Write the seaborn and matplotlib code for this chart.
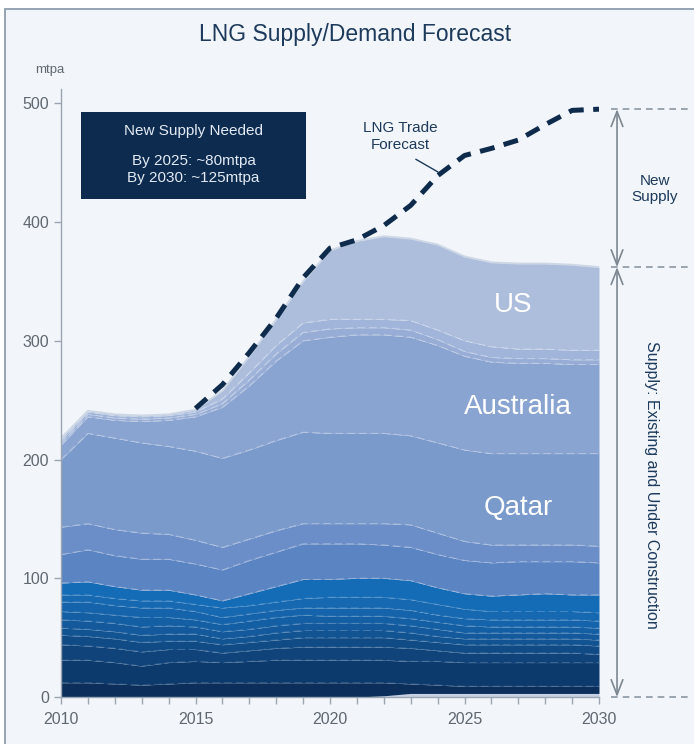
import numpy as np
import pandas as pd
import matplotlib.pyplot as plt
import matplotlib.patches as ptch
import seaborn as sns

years = list(range(2010, 2031))

# top edge of every supply layer, bottom to top (mtpa)
edge_base = [0, 0, 0, 0, 0, 0, 0, 0, 0, 0, 0, 0, 1, 3, 3, 3, 3, 3, 3, 3, 3]
edge_d1 = [12, 12, 11, 10, 11, 12, 12, 12, 12, 12, 12, 12, 12, 11, 10, 9, 9, 9, 9, 9, 9]
edge_d2 = [31, 31, 29, 26, 29, 30, 29, 30, 31, 31, 31, 31, 31, 30, 30, 29, 29, 29, 29, 29, 29]
edge_d3 = [44, 43, 41, 38, 40, 40, 37, 39, 41, 42, 42, 42, 42, 41, 39, 37, 37, 37, 37, 37, 36]
edge_d4 = [52, 51, 49, 46, 47, 47, 44, 46, 48, 50, 50, 50, 50, 48, 46, 44, 44, 44, 44, 44, 43]
edge_d5 = [58, 57, 55, 52, 53, 53, 49, 51, 54, 56, 56, 56, 56, 54, 51, 49, 49, 49, 49, 49, 48]
edge_d6 = [65, 64, 62, 59, 60, 59, 55, 57, 60, 62, 62, 62, 62, 60, 57, 54, 54, 54, 54, 54, 53]
edge_d7 = [72, 71, 69, 67, 67, 65, 61, 64, 67, 69, 68, 68, 68, 66, 63, 60, 59, 59, 59, 59, 58]
edge_d8 = [80, 80, 77, 75, 75, 72, 67, 70, 73, 75, 75, 75, 75, 73, 69, 66, 65, 65, 65, 65, 64]
edge_d9 = [86, 86, 83, 81, 81, 78, 75, 77, 80, 83, 84, 84, 84, 82, 78, 74, 72, 72, 72, 72, 71]
edge_bright = [96, 97, 93, 90, 90, 86, 81, 87, 93, 99, 99, 100, 100, 98, 92, 87, 85, 86, 87, 86, 86]
edge_mid1 = [120, 124, 119, 116, 116, 112, 107, 115, 122, 129, 129, 129, 128, 126, 120, 115, 113, 114, 114, 114, 113]
edge_mid2 = [143, 146, 141, 138, 137, 132, 126, 133, 140, 146, 146, 146, 146, 145, 138, 131, 128, 128, 128, 128, 127]
edge_qatar = [200, 222, 218, 214, 211, 207, 201, 208, 216, 223, 222, 222, 222, 220, 214, 208, 205, 205, 205, 205, 205]
edge_australia = [212, 236, 233, 232, 233, 236, 244, 262, 283, 300, 303, 305, 305, 303, 296, 287, 282, 281, 281, 280, 280]
edge_other1 = [214, 238, 235, 234, 235, 238, 247, 267, 289, 307, 310, 311, 311, 309, 301, 291, 286, 285, 285, 284, 284]
edge_other2 = [216, 240, 237, 236, 237, 240, 251, 273, 296, 315, 318, 318, 318, 317, 309, 300, 295, 293, 293, 292, 292]
edge_us = [218, 241, 238, 237, 238, 242, 258, 287, 318, 350, 376, 384, 388, 386, 381, 371, 366, 365, 365, 364, 362]

edges = [edge_base, edge_d1, edge_d2, edge_d3, edge_d4, edge_d5, edge_d6, edge_d7,
         edge_d8, edge_d9, edge_bright, edge_mid1, edge_mid2, edge_qatar,
         edge_australia, edge_other1, edge_other2, edge_us]
colors = ['#c5d0e4', '#0b2f5a', '#0d3a6c', '#0f4379', '#114b86', '#125391', '#13599b',
          '#145fa4', '#1564ab', '#1668b1', '#146bb6', '#5b84c2', '#6b8ec8', '#7b9acc',
          '#8aa4d1', '#97add6', '#a1b5da', '#adbedd']

trade_years = list(range(2015, 2031))
trade = [243, 263, 290, 319, 353, 378, 385, 397, 414, 439, 456, 462, 469, 482, 494, 495]

labels = ['US', 'Australia', 'Qatar']
label_x = [2026.8, 2027.0, 2027.0]
label_y = [330, 244, 159]

sns.set_theme(style='ticks')
plt.rcParams['font.family'] = ['Liberation Sans', 'DejaVu Sans']

navy = '#1d3a5c'
grey = '#5f6770'

fig = plt.figure(figsize=(6.94, 7.44), dpi=100, facecolor='white')
fig.patches.append(ptch.Rectangle((5 / 694, -0.1), 1.2, 1.1 - 9 / 744,
                                  transform=fig.transFigure, facecolor='#f2f6fa',
                                  edgecolor='#8d9cae', lw=1.3, zorder=-10))
ax = fig.add_axes([61 / 694, 47 / 744, 538 / 694, 608 / 744])
ax.set_facecolor('none')

layers = np.diff(np.vstack([np.zeros(len(years))] + [np.array(e) for e in edges]), axis=0)
ax.stackplot(years, layers, colors=colors, lw=0)

# faint dashed seams between the layers
for i, e in enumerate(edges[1:-1]):
    a = 0.2 if i < 9 else 0.35
    ax.plot(years, e, color='white', alpha=a, lw=0.7, ls=(0, (8, 4)))
ax.plot(years, edge_us, color='#cdd7e5', lw=1.4)

df = pd.DataFrame({'year': trade_years, 'trade': trade})
sns.lineplot(data=df, x='year', y='trade', ax=ax, color='#0f2b4c', lw=3.6)
ax.lines[-1].set_linestyle((0, (3.0, 1.9)))
ax.lines[-1].set_solid_capstyle('butt')

ax.set_xlim(2010, 2030)
ax.set_ylim(0, 512)
ax.set_yticks([0, 100, 200, 300, 400, 500])
ax.set_xticks([2010, 2015, 2020, 2025, 2030])
ax.set_xticks(years, minor=True)
ax.set_xlabel('')
ax.set_ylabel('')
for s in ['top', 'right']:
    ax.spines[s].set_visible(False)
for s in ['left', 'bottom']:
    ax.spines[s].set_color('#9aa5b1')
    ax.spines[s].set_linewidth(1.0)
ax.tick_params(axis='both', which='both', colors='#9aa5b1', length=5, width=1,
               labelcolor=grey, labelsize=11.5)
ax.tick_params(axis='x', pad=6)

ax.text(2009.6, 528, 'mtpa', ha='center', va='center', fontsize=9.5,
        color=grey, clip_on=False)
fig.text(355 / 694, 1 - 35 / 744, 'LNG Supply/Demand Forecast', ha='center',
         va='center', fontsize=16.5, color=navy)

# info box
ax.add_patch(ptch.Rectangle((2010.74, 419), 8.37, 74, facecolor='#0c2b4f',
                            edgecolor='none', zorder=5))
ax.text(2014.93, 477, 'New Supply Needed', ha='center', va='center',
        fontsize=11, color='#e3eaf3', zorder=6)
ax.text(2014.93, 444.5, 'By 2025: ~80mtpa\nBy 2030: ~125mtpa', ha='center',
        va='center', fontsize=11, color='#e3eaf3', linespacing=1.25, zorder=6)

ax.text(2022.6, 472, 'LNG Trade\nForecast', ha='center', va='center',
        fontsize=11, color=navy, linespacing=1.25)
ax.annotate('', xy=(2024.1, 441), xytext=(2023.1, 454),
            arrowprops=dict(arrowstyle='-', color=navy, lw=1.0))

for i, lab in enumerate(labels):
    ax.text(label_x[i], label_y[i], lab, ha='center', va='center',
            fontsize=20, color='white')

# right-hand brackets
x_arrow = 2030.67
top_val = trade[-1]
sup_val = edge_us[-1]
for v in [top_val, sup_val, 0]:
    ax.plot([2030.45, 2033.4], [v, v], color='#8b96a3', lw=1.2,
            ls=(0, (4, 3)), clip_on=False)
for a, b in [(sup_val, top_val), (0, sup_val)]:
    ax.annotate('', xy=(x_arrow, b), xytext=(x_arrow, a), annotation_clip=False,
                arrowprops=dict(arrowstyle='<->,head_length=0.9,head_width=0.35',
                                color='#7c8792', lw=1.2, shrinkA=0, shrinkB=0))
ax.text(2032.08, 428, 'New\nSupply', ha='center', va='center', fontsize=11,
        color=navy, linespacing=1.2, clip_on=False)
ax.text(2031.97, 179, 'Supply: Existing and Under Construction', ha='center',
        va='center', rotation=270, fontsize=11.5, color=navy, clip_on=False)

fig.savefig('out.png', dpi=100, facecolor=fig.get_facecolor())
